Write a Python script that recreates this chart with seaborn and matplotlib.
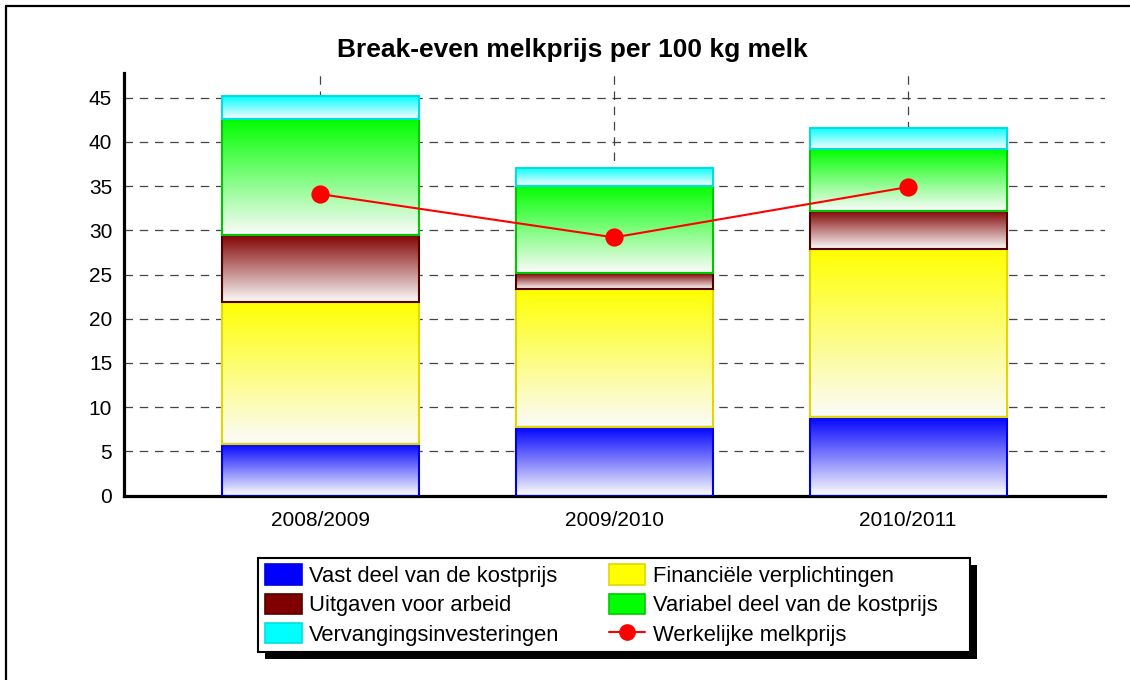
"""
Break-even melkprijs per 100 kg melk - stacked bars with gradient fill
"""

import numpy as np
import matplotlib
matplotlib.use("Agg")
import matplotlib.pyplot as plt
import matplotlib.colors as mcolors
from matplotlib.patches import Patch, Rectangle
from matplotlib.lines import Line2D
import seaborn as sns

# Data
years = ["2008/2009", "2009/2010", "2010/2011"]
vast_deel = [5.8, 7.8, 8.9]
financieel = [16.1, 15.6, 19.0]
arbeid = [7.6, 1.8, 4.3]
variabel = [13.1, 9.85, 7.0]
vervanging = [2.6, 2.05, 2.4]
melkprijs = [34.1, 29.2, 34.9]

labels = ["Vast deel van de kostprijs", "Financiële verplichtingen",
          "Uitgaven voor arbeid", "Variabel deel van de kostprijs",
          "Vervangingsinvesteringen"]
line_label = "Werkelijke melkprijs"
fill_colors = ["#0000ff", "#ffff00", "#800000", "#00ff00", "#00ffff"]
edge_colors = ["#0000e0", "#e0d800", "#500000", "#00c800", "#00dede"]

sns.set_theme(style="white")
plt.rcParams['font.family'] = ['Liberation Sans', 'DejaVu Sans']
plt.rcParams['text.color'] = 'black'

W, H = 1130, 680
fig = plt.figure(figsize=(W / 100, H / 100), dpi=100)
ax = fig.add_axes([124 / W, 1 - 495.5 / H, (1105 - 124) / W, (495.5 - 73) / H])


def gradient_fill(ax, patch, color):
    # full colour at the top, fading to white at the bottom
    x0, y0 = patch.get_x(), patch.get_y()
    w, h = patch.get_width(), patch.get_height()
    rgb = np.array(mcolors.to_rgb(color))
    t = np.linspace(0, 1, 256)[:, None]
    img = (1 - t) * 0.985 + t * rgb
    img = np.clip(img, 0, 1)[:, None, :]
    ax.imshow(img, extent=[x0, x0 + w, y0, y0 + h], origin="lower",
              aspect="auto", zorder=2.5, interpolation="bilinear")


segments = [vast_deel, financieel, arbeid, variabel, vervanging]
bottom = np.zeros(len(years))
for seg, fc, ec in zip(segments, fill_colors, edge_colors):
    sns.barplot(x=years, y=seg, bottom=bottom, color=fc, saturation=1,
                width=0.67, errorbar=None, ax=ax, edgecolor=ec, linewidth=1.5)
    for patch in ax.containers[-1]:
        gradient_fill(ax, patch, fc)
        patch.set_facecolor("none")
        patch.set_zorder(3)
    bottom = bottom + np.array(seg)

sns.pointplot(x=years, y=melkprijs, color="red", markers="o", errorbar=None,
              ax=ax, markersize=12, linewidth=1.5, zorder=6)

ax.set_xlim(-0.667, 2.67)
ax.set_ylim(0, 47.8)
ax.set_yticks(range(0, 46, 5))
ax.set_xlabel("")
ax.set_ylabel("")

# dashed grid
ax.set_axisbelow(True)
for axis in (ax.xaxis, ax.yaxis):
    axis.grid(True, color="#444444", linewidth=0.9, linestyle=(0, (6.8, 5.4)))

for side in ("top", "right"):
    ax.spines[side].set_visible(False)
for side in ("left", "bottom"):
    ax.spines[side].set_linewidth(2.3)
    ax.spines[side].set_color("black")

ax.tick_params(axis="both", which="major", direction="out", length=6.5,
               width=1.2, color="black", labelsize=15, labelcolor="black", pad=2)
ax.tick_params(axis="x", pad=5)

fig.text(572 / W, 1 - 57.5 / H, "Break-even melkprijs per 100 kg melk",
         fontsize=19, fontweight="bold", color="black", ha="center", va="baseline")

# legend (frame and shadow drawn separately to match the box size)
handles = [Patch(facecolor=fc, edgecolor=ec, linewidth=1.2)
           for fc, ec in zip(fill_colors, edge_colors)]
handles.append(Line2D([], [], color="red", marker="o", markersize=11, linewidth=1.5))
leg_labels = labels + [line_label]
order = [0, 2, 4, 1, 3, 5]
leg = fig.legend([handles[i] for i in order], [leg_labels[i] for i in order],
                 ncol=2, loc="upper left", bbox_to_anchor=(261 / W, 1 - 560 / H),
                 frameon=False, fontsize=15.8, handlelength=1.65, handleheight=1.05,
                 handletextpad=0.35, labelspacing=0.3, columnspacing=2.25,
                 borderpad=0.2, borderaxespad=0)

box_x0, box_x1, box_y0, box_y1 = 258, 970, 558, 652
fig.add_artist(Rectangle(((box_x0 + 7) / W, 1 - (box_y1 + 7) / H),
                         (box_x1 - box_x0) / W, (box_y1 - box_y0) / H,
                         transform=fig.transFigure, facecolor="black",
                         edgecolor="none", zorder=3))
fig.add_artist(Rectangle((box_x0 / W, 1 - box_y1 / H),
                         (box_x1 - box_x0) / W, (box_y1 - box_y0) / H,
                         transform=fig.transFigure, facecolor="white",
                         edgecolor="black", linewidth=1.5, zorder=3.5))

# outer frame (top and left edges only)
fig.add_artist(Line2D([6 / W, 6 / W], [0, 1 - 5.5 / H], color="black",
                      linewidth=1.6, transform=fig.transFigure))
fig.add_artist(Line2D([6 / W, 1], [1 - 5.5 / H, 1 - 5.5 / H], color="black",
                      linewidth=1.6, transform=fig.transFigure))

fig.savefig("out.png", dpi=100)
